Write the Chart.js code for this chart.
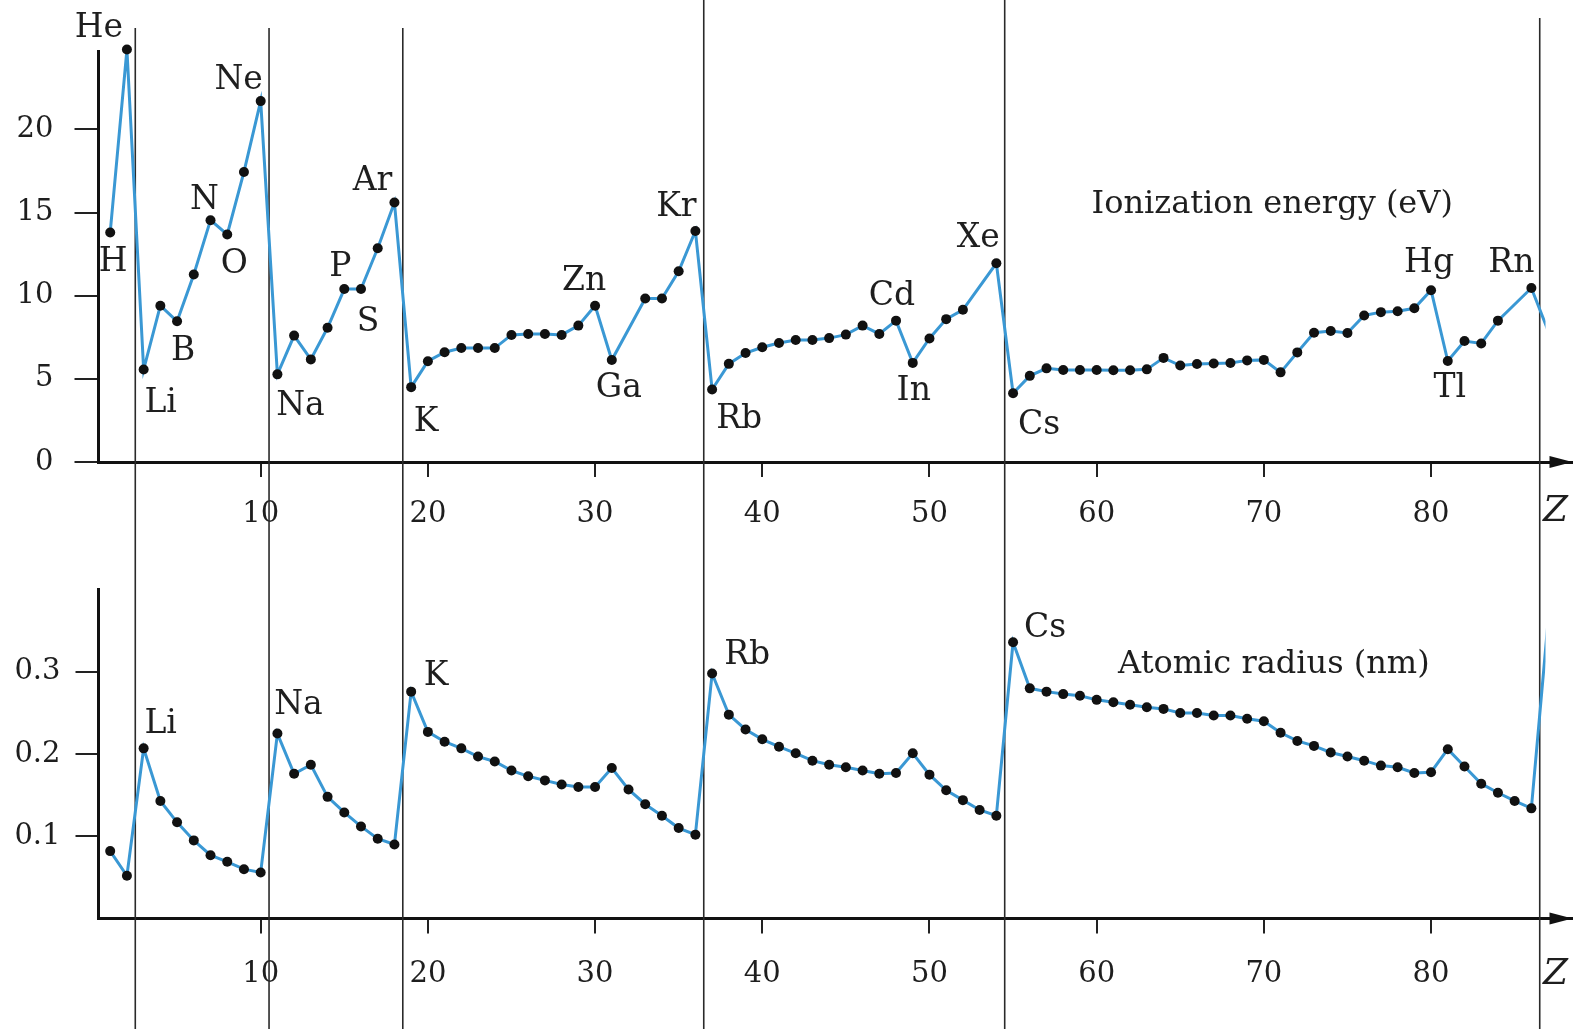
<!DOCTYPE html>
<html><head><meta charset="utf-8">
<script src="https://cdn.jsdelivr.net/npm/chart.js@4.4.1/dist/chart.umd.min.js"></script>
<style>
html,body{margin:0;padding:0;background:#fff;}
#wrap{position:relative;width:1581px;height:1029px;overflow:hidden;background:#fff;}
canvas{position:absolute;left:0;}
#c1{top:0;width:1581px;height:540px;}
#c2{top:540px;width:1581px;height:489px;}
</style></head><body>
<div id="wrap"><canvas id="c1" width="1581" height="540"></canvas><canvas id="c2" width="1581" height="489"></canvas></div>
<script>
const atomicNumbers = [1,2,3,4,5,6,7,8,9,10,11,12,13,14,15,16,17,18,19,20,21,22,23,24,25,26,27,28,29,30,
  31,32,33,34,35,36,37,38,39,40,41,42,43,44,45,46,47,48,49,50,51,52,53,54,55,56,57,58,59,60,
  61,62,63,64,65,66,67,68,69,70,71,72,73,74,75,76,77,78,79,80,81,82,83,84,85,86,87];

const ionizationEnergy = [13.8,24.8,5.56,9.4,8.46,11.27,14.54,13.68,17.44,21.7,
  5.27,7.6,6.17,8.07,10.4,10.4,12.85,15.6,
  4.5,6.06,6.6,6.85,6.85,6.85,7.64,7.7,7.7,7.64,8.2,9.4,6.13,null,9.83,9.83,11.47,13.89,
  4.36,5.9,6.55,6.9,7.15,7.34,7.34,7.45,7.66,8.2,7.7,8.5,5.96,7.43,8.59,9.15,null,11.95,
  4.13,5.18,5.63,5.53,5.53,5.53,5.52,5.52,5.57,6.26,5.8,5.89,5.92,5.95,6.11,6.14,5.39,6.59,
  7.77,7.88,7.76,8.81,9.01,9.06,9.24,10.33,6.07,7.27,7.13,8.5,null,10.46,
  7.9];

const atomicRadius = [0.082,0.052,0.207,0.143,0.117,0.095,0.077,0.069,0.060,0.056,
  0.225,0.176,0.187,0.148,0.129,0.112,0.097,0.090,
  0.276,0.227,0.215,0.207,0.197,0.191,0.180,0.173,0.168,0.163,0.160,0.160,0.183,0.157,0.139,0.125,0.110,0.102,
  0.298,0.248,0.230,0.218,0.209,0.201,0.192,0.187,0.184,0.180,0.176,0.177,0.201,0.175,0.156,0.144,0.132,0.125,
  0.336,0.280,0.276,0.273,0.271,0.266,0.263,0.260,0.257,0.255,0.250,0.250,0.247,0.247,0.243,0.240,
  0.226,0.216,0.210,0.202,0.197,0.192,0.186,0.184,0.177,0.178,0.206,0.185,0.164,0.153,0.143,0.134,
  0.362];

const xTickValues = [10,20,30,40,50,60,70,80];
const xTickLabels = ['10','20','30','40','50','60','70','80'];
const ieTickValues = [0,5,10,15,20];
const ieTickLabels = ['0','5','10','15','20'];
const radiusTickValues = [0.1,0.2,0.3];
const radiusTickLabels = ['0.1','0.2','0.3'];
const periodBoundaries = [2.5,10.5,18.5,36.5,54.5,86.5];

const ieLabelNames = ['H','He','Li','B','N','O','Ne','Na','P','S','Ar','K','Zn','Ga','Kr','Rb','Cd','In','Xe','Cs','Hg','Tl','Rn'];
const ieLabelZ =     [1,2,3,5,7,8,10,11,15,16,18,19,30,31,36,37,48,49,54,55,80,81,86];
const radiusLabelNames = ['Li','Na','K','Rb','Cs'];
const radiusLabelZ = [3,11,19,37,55];

const FONT = "'DejaVu Serif', 'Liberation Serif', serif";
const INK = '#1e1e1e';

const ieOffsets = {H:[3,30],He:[-28,-21],Li:[17,34],B:[6,30],N:[-6,-20],O:[7,30],Ne:[-22,-21],Na:[23,32],
  P:[-4,-22],S:[7,33],Ar:[-22,-21],K:[15,35],Zn:[-11,-24],Ga:[7,28],Kr:[-19,-24],Rb:[27,30],Cd:[-4,-24],
  In:[1,29],Xe:[-18,-25],Cs:[26,32],Hg:[-2,-27],Tl:[2,27],Rn:[-20,-25]};
const radiusOffsets = {Li:[17,-24],Na:[21,-28],K:[25,-15],Rb:[35,-18],Cs:[32,-14]};

const decor = {
  id: 'decor',
  beforeDatasetsDraw(chart, args, o) {
    const ctx = chart.ctx, xs = chart.scales.x;
    ctx.save();
    ctx.strokeStyle = '#2a2a2a';
    ctx.lineWidth = 1.6;
    periodBoundaries.forEach((b, i) => {
      const x = xs.getPixelForValue(b);
      ctx.beginPath(); ctx.moveTo(x, o.lineTops[i]); ctx.lineTo(x, chart.height); ctx.stroke();
    });
    ctx.restore();
  },
  afterDraw(chart, args, o) {
    const ctx = chart.ctx, xs = chart.scales.x, ys = chart.scales.y, ca = chart.chartArea;
    ctx.save();
    ctx.fillStyle = '#111';
    ctx.beginPath();
    ctx.moveTo(ca.right + 1, ca.bottom);
    ctx.lineTo(ca.right - 22, ca.bottom - 6);
    ctx.lineTo(ca.right - 22, ca.bottom + 6);
    ctx.closePath(); ctx.fill();
    ctx.fillStyle = INK;
    ctx.textAlign = 'center'; ctx.textBaseline = 'middle';
    ctx.font = "33px " + FONT;
    o.names.forEach((n, i) => {
      const z = o.zs[i];
      const v = o.values[atomicNumbers.indexOf(z)];
      const off = o.offsets[n] || [0, -25];
      ctx.fillText(n, xs.getPixelForValue(z) + off[0], ys.getPixelForValue(v) + off[1]);
    });
    ctx.font = "32px " + FONT;
    ctx.fillText(o.title, xs.getPixelForValue(o.titleAt[0]), ys.getPixelForValue(o.titleAt[1]));
    ctx.font = "italic 36px " + FONT;
    ctx.fillText('Z', ca.right - 16, ca.bottom + o.zDy);
    ctx.restore();
  }
};

function makeChart(id, values, cfg) {
  return new Chart(document.getElementById(id), {
    type: 'line',
    data: { datasets: [{
      data: atomicNumbers.map((z, i) => ({x: z, y: values[i]})),
      borderColor: '#3a98d4', borderWidth: 3, tension: 0, spanGaps: true,
      pointRadius: c => (c.dataIndex === atomicNumbers.length - 1 ? 0 : 5),
      pointBackgroundColor: '#111', pointBorderWidth: 0, pointHoverRadius: 0,
      clip: {left: 20, top: 20, right: -26, bottom: 20}
    }]},
    plugins: [decor],
    options: {
      responsive: false, animation: false, events: [],
      layout: {padding: {left: 0, right: 9.5, top: cfg.padTop, bottom: 0}},
      plugins: {
        legend: {display: false}, tooltip: {enabled: false},
        decor: cfg.decor
      },
      scales: {
        x: {
          type: 'linear', min: 0.3, max: 88.4, bounds: 'data',
          afterBuildTicks: s => { s.ticks = xTickValues.map(v => ({value: v})); },
          afterFit: s => { s.height = cfg.xHeight; },
          ticks: {autoSkip: false, maxRotation: 0, minRotation: 0, padding: cfg.xPad, color: INK,
            font: {family: FONT, size: 29},
            callback: v => xTickLabels[xTickValues.indexOf(v)]},
          grid: {drawOnChartArea: false, drawTicks: true, tickLength: 15, color: '#222', lineWidth: 2},
          border: {display: true, color: '#111', width: 3}
        },
        y: {
          type: 'linear', min: 0, max: cfg.yMax, bounds: 'data',
          afterBuildTicks: s => { s.ticks = cfg.yTicks.map(v => ({value: v})); },
          afterFit: s => { s.width = 98.5; },
          ticks: {autoSkip: false, padding: cfg.yPad, color: INK, font: {family: FONT, size: 29},
            callback: v => cfg.yLabels[cfg.yTicks.indexOf(v)]},
          grid: {drawOnChartArea: false, drawTicks: true, tickLength: cfg.yTick, color: '#222', lineWidth: 2},
          border: {display: true, color: '#111', width: 3}
        }
      }
    }
  });
}

makeChart('c1', ionizationEnergy, {
  padTop: 51.2, xHeight: 78, xPad: 20, yMax: 24.7, yPad: 21, yTick: 24,
  yTicks: ieTickValues, yLabels: ieTickLabels,
  decor: {lineTops: [28,28,28,0,0,18], names: ieLabelNames, zs: ieLabelZ, values: ionizationEnergy,
    offsets: ieOffsets, title: 'Ionization energy (eV)', titleAt: [70.5, 15.45], zDy: 50}
});
makeChart('c2', atomicRadius, {
  padTop: 49.7, xHeight: 110.5, xPad: 24, yMax: 0.40, yPad: 15, yTick: 23,
  yTicks: radiusTickValues, yLabels: radiusTickLabels,
  decor: {lineTops: [0,0,0,0,0,0], names: radiusLabelNames, zs: radiusLabelZ, values: atomicRadius,
    offsets: radiusOffsets, title: 'Atomic radius (nm)', titleAt: [70.6, 0.3084], zDy: 56}
});
</script>
</body></html>
